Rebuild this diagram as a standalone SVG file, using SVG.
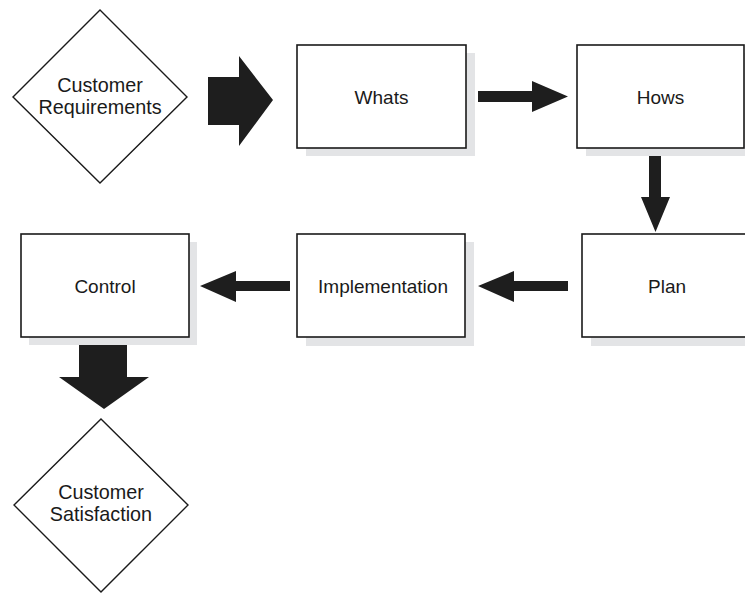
<svg xmlns="http://www.w3.org/2000/svg" width="745" height="593" viewBox="0 0 745 593">
  <style>
    .box { fill: #ffffff; stroke: #1a1a1a; stroke-width: 1.6; }
    .shadow { fill: #e3e4e6; }
    .dia { fill: #ffffff; stroke: #1a1a1a; stroke-width: 1.4; }
    .arrow { fill: #1e1e1e; }
    text { font-family: "Liberation Sans", Arial, Helvetica, sans-serif; font-size: 19px; fill: #1a1a1a; text-anchor: middle; }
    .dia-label { font-size: 19.8px; }
  </style>
  <rect width="745" height="593" fill="#ffffff"/>

  <!-- connectors -->
  <g id="connectors">
    <!-- block arrow: Customer Requirements to Whats -->
    <polygon class="arrow" points="208,77 239,77 239,56 273,100 239,146 239,125 208,125"/>
    <!-- Whats to Hows -->
    <polygon class="arrow" points="478,91 532,91 532,81 568,96.5 532,112 532,102 478,102"/>
    <!-- Hows to Plan -->
    <polygon class="arrow" points="649,148 661,148 661,197 670,197 655.5,232 641,197 649,197"/>
    <!-- Plan to Implementation -->
    <polygon class="arrow" points="568,281 514,281 514,271 478,286 514,302 514,291 568,291"/>
    <!-- Implementation to Control -->
    <polygon class="arrow" points="290,281 236,281 236,271 200,286 236,302 236,291 290,291"/>
    <!-- block arrow: Control to Customer Satisfaction -->
    <polygon class="arrow" points="79,345 127,345 127,377 149,377 104,409 59,377 79,377"/>
  </g>

  <g id="customer-requirements">
    <polygon class="dia" points="100,10 187,97 100,183 13,97"/>
    <text class="dia-label" x="100" y="92">Customer</text>
    <text class="dia-label" x="100" y="113.5">Requirements</text>
  </g>

  <g id="whats">
    <rect class="shadow" x="306" y="53" width="169" height="103"/>
    <rect class="box" x="297" y="45" width="169" height="103"/>
    <text x="381.5" y="104">Whats</text>
  </g>

  <g id="hows">
    <rect class="shadow" x="586" y="53" width="167" height="103"/>
    <rect class="box" x="577" y="45" width="167" height="103"/>
    <text x="660.5" y="104">Hows</text>
  </g>

  <g id="plan">
    <rect class="shadow" x="591" y="242" width="170" height="104"/>
    <rect class="box" x="582" y="234" width="170" height="103"/>
    <text x="667" y="292.5">Plan</text>
  </g>

  <g id="implementation">
    <rect class="shadow" x="306" y="242" width="168" height="104"/>
    <rect class="box" x="297" y="234" width="168" height="103"/>
    <text x="383" y="292.5">Implementation</text>
  </g>

  <g id="control">
    <rect class="shadow" x="29" y="242" width="168" height="103"/>
    <rect class="box" x="21" y="234" width="168" height="103"/>
    <text x="105" y="292.5">Control</text>
  </g>

  <g id="customer-satisfaction">
    <polygon class="dia" points="101,419 188,505 101,592 14,505"/>
    <text class="dia-label" x="101" y="499">Customer</text>
    <text class="dia-label" x="101" y="520.5">Satisfaction</text>
  </g>
</svg>
